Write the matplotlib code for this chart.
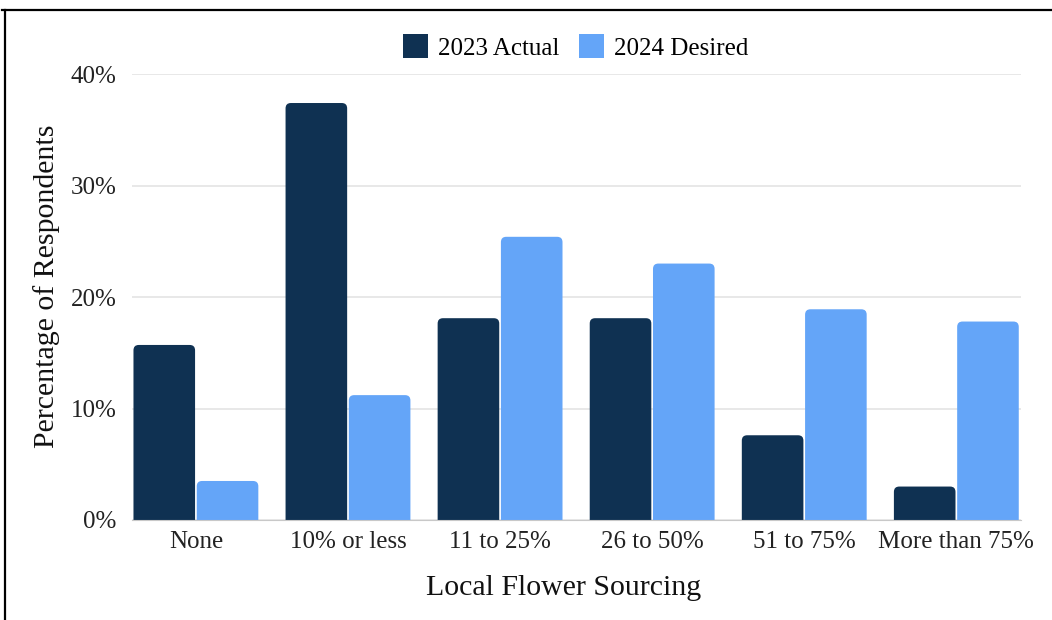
import numpy as np
import matplotlib as mpl
mpl.use('Agg')
import matplotlib.pyplot as plt
from matplotlib.patches import FancyBboxPatch, Rectangle
from matplotlib.lines import Line2D

plt.rcParams['font.family'] = ['Liberation Serif', 'DejaVu Serif']

categories = ['None', '10% or less', '11 to 25%', '26 to 50%', '51 to 75%', 'More than 75%']
actual_2023 = [15.7, 37.4, 18.1, 18.1, 7.6, 3.0]
desired_2024 = [3.5, 11.2, 25.4, 23.0, 18.9, 17.8]
series_names = ['2023 Actual', '2024 Desired']
yticks = [0, 10, 20, 30, 40]

dark = '#0f3152'
light = '#64a5f8'

fig = plt.figure(figsize=(10.52, 6.2), dpi=100)
ax = fig.add_axes([0.1255, 0.1613, 0.845, 0.7193])

x = np.arange(len(categories))
w = 0.405
gap = 0.011
ax.set_xlim(-0.42, len(categories) - 0.575)
ax.set_ylim(0, 40)

# aspect of one x unit vs one y unit in pixels, so the corner radius stays round
def draw_bars(xs, vals, color):
    bb = ax.get_window_extent()
    xpx = bb.width / (ax.get_xlim()[1] - ax.get_xlim()[0])
    ypx = bb.height / (ax.get_ylim()[1] - ax.get_ylim()[0])
    for xi, v in zip(xs, vals):
        p = FancyBboxPatch((xi, -2), w, v + 2,
                           boxstyle='round,pad=0,rounding_size=0.035',
                           mutation_aspect=xpx / ypx,
                           fc=color, ec='none', zorder=3)
        ax.add_patch(p)

draw_bars(x - w - gap / 2, actual_2023, dark)
draw_bars(x + gap / 2, desired_2024, light)

ax.set_yticks(yticks)
ax.set_yticklabels(['{}%'.format(t) for t in yticks])
ax.set_xticks(x)
ax.set_xticklabels(categories)
ax.tick_params(axis='both', length=0, labelsize=18, colors='#222222')
ax.tick_params(axis='y', pad=11)
ax.tick_params(axis='x', pad=8)
ax.grid(axis='y', color='#e2e2e2', lw=1.1, zorder=0)
for s in ['top', 'right', 'left']:
    ax.spines[s].set_visible(False)
ax.spines['bottom'].set_color('#c8c8c8')
ax.spines['bottom'].set_zorder(4)

ax.set_ylabel('Percentage of Respondents', fontsize=21.5, color='#111111')
ax.set_xlabel('Local Flower Sourcing', fontsize=21.5, color='#111111')
ax.yaxis.set_label_coords(-0.081, 0.525)
ax.xaxis.set_label_coords(0.4853, -0.1226)

handles = [Rectangle((0, 0), 1, 1, fc=dark), Rectangle((0, 0), 1, 1, fc=light)]
fig.legend(handles, series_names, loc='center', bbox_to_anchor=(0.547, 0.924),
           ncol=2, frameon=False, fontsize=18, handlelength=1.0, handleheight=1.1,
           handletextpad=0.4, columnspacing=0.8)

# frame lines along the top and left edges
fig.add_artist(Line2D([0.002, 1.0], [0.984, 0.984], color='black', lw=1.6, transform=fig.transFigure))
fig.add_artist(Line2D([0.0045, 0.0045], [0.0, 0.984], color='black', lw=1.6, transform=fig.transFigure))

fig.savefig('out.png', dpi=100)
